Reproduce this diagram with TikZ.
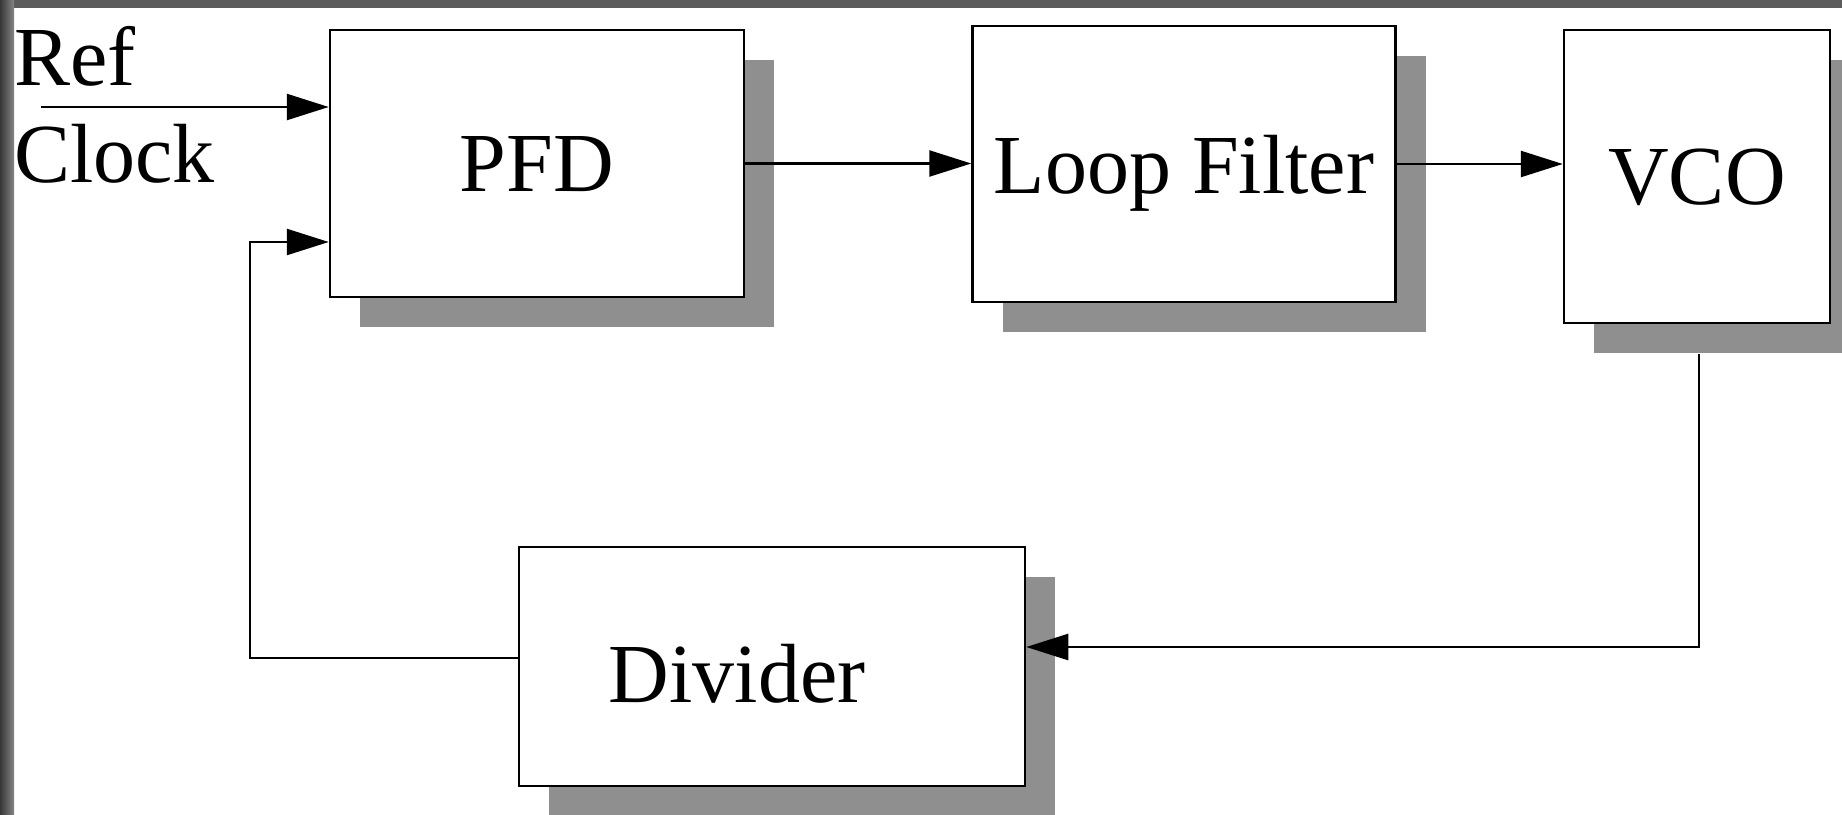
\documentclass[tikz,border=0pt]{standalone}
\usepackage{fontspec}
\setmainfont{Liberation Serif}
\usetikzlibrary{arrows.meta,shadows}
\definecolor{shadowc}{RGB}{143,143,143}
\definecolor{bandc}{RGB}{92,92,92}
\tikzset{
  blk/.style={draw=black, line width=2.5pt, fill=white, inner sep=0pt,
    text depth=0pt,
    drop shadow={shadow xshift=30pt, shadow yshift=-30pt, fill=shadowc, opacity=1}},
  arr/.style={line width=2.5pt, -{Triangle[length=42pt,width=26pt]}},
  wire/.style={line width=2.5pt},
  lbl/.style={inner sep=0pt, anchor=base west}
}
\begin{document}
\begin{tikzpicture}[x=1pt,y=-1pt,font=\fontsize{84pt}{100pt}\selectfont]
\useasboundingbox (0,0) rectangle (1842,814);
\clip (0,0) rectangle (1842,814);
\fill[white] (0,0) rectangle (1842,814);

% blocks
\node[blk, minimum width=414pt, minimum height=267pt] (pfd) at (537,163.5) {PFD};
\node[blk, minimum width=423pt, minimum height=276pt] (lf) at (1184,164) {Loop Filter};
\node[blk, minimum width=266pt, minimum height=293pt] (vco) at (1697,176.5) {VCO};
\node[blk, minimum width=506pt, minimum height=239pt,
  label={[xshift=-35pt,yshift=-7pt,text depth=0pt,inner sep=0pt]center:Divider}] (div) at (772,666.5) {};

% input label
\node[lbl] (ref) at (14,85) {Ref};
\node[lbl] (clk) at (14,182) {Clock};

% connectors
\coordinate (refin) at (41,107);
\draw[arr] (refin) -- (pfd.west |- refin);
\draw[arr] (pfd.east) -- (lf.west |- pfd.east);
\draw[arr] (lf.east) -- (vco.west |- lf.east);
\coordinate (vcodown) at (1699,647);
\draw[arr] ([xshift=2pt,yshift=-30pt]vco.south) -- (vcodown) -- (div.east |- vcodown);
\coordinate (fbl) at (250,658);
\coordinate (fbt) at (250,242);
\draw[arr] ([yshift=8.5pt]div.west) -- (fbl) -- (fbt) -- (pfd.west |- fbt);

% frame bands
\fill[bandc] (0,0) rectangle (1842,8);
\shade[left color=black!78, right color=black!48] (0,0) rectangle (14,814);
\end{tikzpicture}
\end{document}
